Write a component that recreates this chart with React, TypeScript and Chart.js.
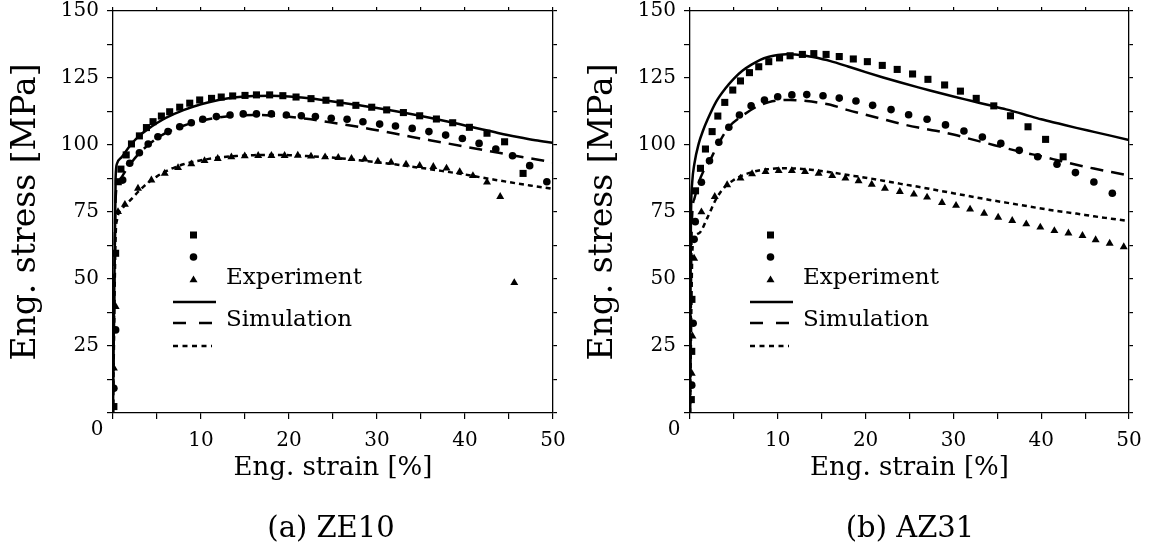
import React, { useEffect, useRef } from 'react';
import { Chart, registerables } from 'chart.js';

Chart.register(...registerables);

type P = [number, number];

const FONT = '"DejaVu Serif", serif';

// ---------- axis settings ----------
const X_MIN = 0;
const X_MAX = 50;
const Y_MIN = 0;
const Y_MAX = 150;
const X_TITLE = 'Eng. strain [%]';
const Y_TITLE = 'Eng. stress [MPa]';
const LEGEND_EXPERIMENT = 'Experiment';
const LEGEND_SIMULATION = 'Simulation';
const CAPTIONS = ['(a) ZE10', '(b) AZ31'];

// ---------- ZE10 experiment ----------
const ze10Squares: P[] = [
  [0.1, 2.4], [0.3, 59.6], [0.6, 86.3], [0.9, 91], [1.5, 96.3], [2.1, 100.4], [3.0, 103.4], [3.8, 106.5],
  [4.55, 108.7], [5.5, 110.8], [6.44, 112.4], [7.58, 114.1], [8.72, 115.6], [9.85, 116.8], [11.2, 117.4],
  [12.3, 117.9], [13.6, 118.3], [15.0, 118.5], [16.3, 118.7], [17.8, 118.7], [19.3, 118.4], [20.8, 117.9],
  [22.5, 117.3], [24.2, 116.7], [25.8, 115.7], [27.6, 114.8], [29.4, 114.1], [31.1, 113.1], [33.0, 112.1],
  [34.85, 110.9], [36.75, 109.7], [38.6, 108.3], [40.5, 106.6], [42.5, 104.4], [44.5, 101.2], [46.6, 89.4],
];
const ze10Circles: P[] = [
  [0.1, 9.2], [0.3, 31], [1.1, 86.9], [1.9, 93.2], [3.0, 97.1], [4.0, 100.4], [5.1, 103.1], [6.25, 105],
  [7.58, 106.8], [8.9, 108.3], [10.2, 109.6], [11.75, 110.6], [13.3, 111.2], [14.8, 111.6], [16.3, 111.6],
  [18, 111.6], [19.7, 111.2], [21.4, 110.9], [23, 110.6], [24.8, 110], [26.6, 109.6], [28.4, 108.7],
  [30.3, 107.8], [32.1, 107.1], [34, 106.2], [35.9, 105], [37.8, 103.7], [39.7, 102.4], [41.6, 100.6],
  [43.5, 98.5], [45.4, 96], [47.35, 92.3], [49.3, 86.3],
];
const ze10Triangles: P[] = [
  [0.1, 16.7], [0.3, 39.7], [0.57, 75.1], [1.35, 77.8], [2.84, 83.8], [4.36, 86.9], [5.88, 89.4],
  [7.39, 91.5], [8.9, 92.9], [10.4, 94.1], [11.9, 94.9], [13.45, 95.5], [14.97, 95.9], [16.5, 96],
  [18, 96], [19.5, 96], [21, 96.1], [22.5, 95.8], [24.1, 95.5], [25.6, 95.3], [27.1, 94.9], [28.6, 94.7],
  [30.1, 93.9], [31.6, 93.5], [33.3, 92.8], [34.85, 92.3], [36.4, 91.9], [37.9, 91.3], [39.4, 90],
  [40.9, 88.5], [42.5, 86.1], [44, 80.7], [45.6, 48.6],
];

// ---------- ZE10 simulation ----------
const ze10Solid: P[] = [
  [0, 0], [0.3, 88], [0.45, 93], [1, 95.5], [2, 100], [3, 103.5], [4, 106], [5, 108.2], [6, 110.1],
  [8, 113], [10, 115.2], [12, 116.8], [14, 117.8], [16, 118.3], [18, 118.4], [20, 118.1], [22, 117.5],
  [24, 116.7], [26, 115.8], [28, 114.8], [30, 113.8], [32, 112.7], [34, 111.5], [36, 110.2], [38, 108.8],
  [40, 107.3], [42, 105.8], [44, 104.3], [46, 103.0], [48, 101.8], [50, 100.8],
];
const ze10Dashed: P[] = [
  [0, 0], [0.3, 80], [0.45, 84], [1, 88], [2, 93], [3, 97], [4, 100], [5, 102.5], [6, 104.5], [8, 107.2],
  [10, 109], [12, 110.3], [14, 111], [16, 111.2], [18, 111], [20, 110.5], [22, 109.8], [24, 108.8],
  [26, 107.8], [28, 106.7], [30, 105.5], [32, 104.3], [34, 103.0], [36, 101.8], [38, 100.6], [40, 99.4],
  [42, 98.2], [44, 97.0], [46, 95.8], [48, 94.7], [50, 93.6],
];
const ze10Dotted: P[] = [
  [0, 0], [0.3, 66], [0.45, 72], [1, 76], [2, 79.5], [3, 83], [4, 86], [5, 88.3], [6, 90.2], [8, 92.8],
  [10, 94.3], [12, 95.3], [14, 95.9], [16, 96.2], [18, 96.3], [20, 96.2], [22, 95.9], [24, 95.5],
  [26, 95], [28, 94.3], [30, 93.6], [32, 92.8], [34, 91.9], [36, 91], [38, 90], [40, 89], [42, 87.8],
  [44, 86.7], [46, 85.6], [48, 84.6], [50, 83.6],
];

// ---------- AZ31 experiment ----------
const az31Squares: P[] = [
  [0.15, 5], [0.2, 23], [0.22, 42.4], [0.63, 82.9], [1.19, 91.3], [1.76, 98.5], [2.52, 105], [3.17, 110.8],
  [3.96, 115.9], [4.87, 120.5], [5.75, 123.9], [6.77, 127], [7.83, 129.2], [8.97, 131.1], [10.2, 132.5],
  [11.4, 133.3], [12.8, 133.8], [14.1, 134.1], [15.5, 133.8], [17, 133], [18.6, 132.1], [20.2, 131.1],
  [21.9, 129.7], [23.6, 128.2], [25.35, 126.5], [27.1, 124.5], [29, 122.4], [30.8, 120.1], [32.6, 117.4],
  [34.6, 114.6], [36.5, 110.9], [38.5, 106.8], [40.5, 102.1], [42.5, 95.6],
];
const az31Circles: P[] = [
  [0.2, 10.4], [0.36, 33.5], [0.47, 64.8], [0.6, 71.4], [1.3, 86.1], [2.22, 94.1], [3.28, 101], [4.42, 106.6],
  [5.63, 111.2], [6.96, 114.6], [8.48, 116.8], [9.99, 118], [11.6, 118.7], [13.3, 118.8], [15.15, 118.4],
  [17, 117.5], [18.9, 116.4], [20.8, 114.8], [22.9, 113.2], [24.9, 111.3], [27, 109.6], [29.1, 107.5],
  [31.2, 105.2], [33.3, 103], [35.4, 100.6], [37.5, 98], [39.6, 95.6], [41.8, 92.8], [43.9, 89.7],
  [46, 86.2], [48.1, 82],
];
const az31Triangles: P[] = [
  [0.2, 14.8], [0.28, 28.7], [0.47, 57.7], [1.3, 75], [2.82, 80.7], [4.23, 85.1], [5.75, 87.6], [7.07, 89.2],
  [8.6, 90], [10.1, 90.4], [11.6, 90.4], [13.1, 90], [14.65, 89.4], [16.2, 88.5], [17.7, 87.6], [19.2, 86.6],
  [20.7, 85.3], [22.2, 83.8], [23.9, 82.6], [25.5, 81.6], [27, 80.5], [28.7, 78.5], [30.3, 77.4], [31.9, 76],
  [33.5, 74.5], [35.1, 73], [36.7, 71.8], [38.3, 70.5], [39.9, 69.3], [41.5, 68], [43.1, 67.1], [44.7, 66.2],
  [46.2, 64.6], [47.8, 63.3], [49.4, 62],
];

// ---------- AZ31 simulation ----------
const az31Solid: P[] = [
  [0, 0], [0.1, 70], [0.25, 86], [0.5, 93], [1, 100.6], [1.5, 105.5], [2, 109.5], [3, 116.3], [4, 121],
  [5, 124.8], [6, 127.8], [7, 130], [8, 131.8], [9, 132.9], [10, 133.6], [11, 133.9], [12, 133.8],
  [13, 133.4], [14, 132.8], [16, 131.3], [18, 129.3], [20, 127.2], [22, 125.2], [24, 123.3], [26, 121.5],
  [28, 119.8], [30, 118.1], [32, 116.5], [34, 114.9], [36, 113.3], [38, 111.5], [40, 109.6], [42, 108],
  [44, 106.4], [46, 104.9], [48, 103.4], [50, 101.9],
];
const az31Dashed: P[] = [
  [0, 0], [0.2, 70], [0.5, 80], [1, 86], [1.5, 90], [2.3, 94.4], [3, 99], [4.4, 106.6], [6, 111],
  [7.6, 114.3], [9, 116], [10, 116.6], [11.4, 116.8], [13.3, 116.4], [15, 115.6], [16, 115], [18, 113],
  [20, 111.3], [22, 109.6], [24, 107.9], [26, 106.5], [28, 105.3], [30, 103.9], [32, 102.2], [34, 100.5],
  [36, 98.8], [38, 97.2], [40, 95.8], [42, 94.2], [44, 92.6], [46, 91.2], [48, 89.9], [50, 88.6],
];
const az31Dotted: P[] = [
  [0, 0], [0.3, 62], [1, 67], [2, 73], [3, 80], [4, 84.5], [5, 87], [6, 88.7], [7, 89.8], [8, 90.6],
  [9, 91], [10, 91.3], [11, 91.3], [12, 91.2], [14, 90.7], [16, 89.8], [18, 88.8], [20, 87.8], [22, 86.7],
  [24, 85.5], [26, 84.4], [28, 83.2], [30, 82], [32, 80.8], [34, 79.6], [36, 78.5], [38, 77.4], [40, 76.3],
  [42, 75.3], [44, 74.4], [46, 73.4], [48, 72.5], [50, 71.6],
];

const toXY = (arr: P[]) => arr.map(([x, y]) => ({ x, y }));

interface PanelProps {
  left: number;
  width: number;
  height: number;
  plotLeft: number;
  plotRight: number;
  squares: P[];
  circles: P[];
  triangles: P[];
  solid: P[];
  dashed: P[];
  dotted: P[];
}

function drawMarker(ctx: CanvasRenderingContext2D, kind: string, x: number, y: number) {
  ctx.save();
  ctx.fillStyle = '#000';
  ctx.beginPath();
  if (kind === 'rect') {
    ctx.rect(x - 3.5, y - 3.5, 7, 7);
  } else if (kind === 'circle') {
    ctx.arc(x, y, 3.8, 0, Math.PI * 2);
  } else {
    ctx.moveTo(x, y - 4.6);
    ctx.lineTo(x + 4, y + 2.3);
    ctx.lineTo(x - 4, y + 2.3);
    ctx.closePath();
  }
  ctx.fill();
  ctx.restore();
}

function drawLegendLine(ctx: CanvasRenderingContext2D, x0: number, x1: number, y: number, dash: number[]) {
  ctx.save();
  ctx.strokeStyle = '#000';
  ctx.lineWidth = 2.5;
  ctx.setLineDash(dash);
  ctx.beginPath();
  ctx.moveTo(x0, y);
  ctx.lineTo(x1, y);
  ctx.stroke();
  ctx.restore();
}

const extrasPlugin = {
  id: 'panelExtras',
  afterDraw(chart: any) {
    const { ctx, chartArea: ca } = chart;
    ctx.save();
    // shared origin label
    ctx.fillStyle = '#000';
    ctx.font = `20px ${FONT}`;
    ctx.textAlign = 'center';
    ctx.textBaseline = 'middle';
    ctx.fillText('0', ca.left - 16, ca.bottom + 17);

    // legend
    const mx = ca.left + 80.5;
    const ty = ca.top;
    drawMarker(ctx, 'rect', mx, ty + 224);
    drawMarker(ctx, 'circle', mx, ty + 246);
    drawMarker(ctx, 'triangle', mx, ty + 269);
    drawLegendLine(ctx, ca.left + 60, ca.left + 103, ty + 291, []);
    drawLegendLine(ctx, ca.left + 60, ca.left + 101, ty + 312, [13, 13]);
    drawLegendLine(ctx, ca.left + 60, ca.left + 99, ty + 335, [5, 4.5]);
    ctx.font = `23px ${FONT}`;
    ctx.textAlign = 'left';
    ctx.textBaseline = 'middle';
    ctx.fillText(LEGEND_EXPERIMENT, ca.left + 113, ty + 267);
    ctx.fillText(LEGEND_SIMULATION, ca.left + 113, ty + 309);
    ctx.restore();
  },
};

function Panel(props: PanelProps) {
  const ref = useRef<HTMLCanvasElement | null>(null);
  useEffect(() => {
    const canvas = ref.current;
    if (!canvas) return;
    const rightW = props.width - props.plotRight;
    const markerDs = (data: P[], style: string, r: number) => ({
      type: 'scatter' as const,
      data: toXY(data),
      showLine: false,
      pointStyle: style,
      pointRadius: r,
      pointHoverRadius: r,
      pointBackgroundColor: '#000',
      pointBorderColor: '#000',
      pointBorderWidth: 0,
      xAxisID: 'x',
      yAxisID: 'y',
    });
    const lineDs = (data: P[], dash: number[]) => ({
      type: 'scatter' as const,
      data: toXY(data),
      showLine: true,
      borderColor: '#000',
      borderWidth: 2.5,
      borderDash: dash,
      pointRadius: 0,
      pointHoverRadius: 0,
      cubicInterpolationMode: 'monotone' as const,
      fill: false,
      xAxisID: 'x',
      yAxisID: 'y',
    });
    const axisGrid = (len: number) => ({
      drawOnChartArea: false,
      drawTicks: true,
      tickLength: len,
      color: '#000',
      tickColor: '#000',
      lineWidth: 1.2,
      tickWidth: 1.2,
    });
    const border = { display: true, color: '#000', width: 1.3 };
    const chart = new Chart(canvas, {
      type: 'scatter',
      data: {
        datasets: [
          lineDs(props.solid, []),
          lineDs(props.dashed, [13, 8]),
          lineDs(props.dotted, [5, 4]),
          markerDs(props.squares, 'rect', 5),
          markerDs(props.circles, 'circle', 3.8),
          markerDs(props.triangles, 'triangle', 4.6),
        ] as any,
      },
      options: {
        animation: false,
        responsive: false,
        maintainAspectRatio: false,
        events: [],
        layout: { padding: 0, autoPadding: false } as any,
        plugins: { legend: { display: false }, tooltip: { enabled: false }, title: { display: false } },
        scales: {
          x: {
            type: 'linear',
            position: 'bottom',
            min: X_MIN,
            max: X_MAX,
            ticks: {
              stepSize: 5,
              autoSkip: false,
              maxRotation: 0,
              padding: 10,
              color: '#000',
              font: { family: FONT, size: 20 },
              callback: (v: any) => (Number(v) % 10 === 0 && Number(v) !== 0 ? String(v) : ''),
            },
            grid: axisGrid(6),
            border,
            title: {
              display: true,
              text: X_TITLE,
              color: '#000',
              font: { family: FONT, size: 26 },
              padding: { top: 0, bottom: 62 },
            },
            afterFit: (s: any) => { s.height = props.height - 413; },
          },
          x2: {
            type: 'linear',
            position: 'top',
            min: X_MIN,
            max: X_MAX,
            ticks: { display: false, stepSize: 5, autoSkip: false },
            grid: axisGrid(4),
            border,
            afterFit: (s: any) => { s.height = 11; },
          },
          y: {
            type: 'linear',
            position: 'left',
            min: Y_MIN,
            max: Y_MAX,
            ticks: {
              stepSize: 12.5,
              autoSkip: false,
              padding: 8,
              color: '#000',
              font: { family: FONT, size: 20, lineHeight: 0.1 },
              callback: (v: any) => (Number(v) % 25 === 0 && Number(v) !== 0 ? String(v) : ''),
            },
            grid: axisGrid(6),
            border,
            title: {
              display: true,
              text: Y_TITLE,
              color: '#000',
              font: { family: FONT, size: 33 },
              padding: { top: 7, bottom: 0 },
            },
            afterFit: (s: any) => { s.width = props.plotLeft; },
          },
          y2: {
            type: 'linear',
            position: 'right',
            min: Y_MIN,
            max: Y_MAX,
            ticks: { display: false, stepSize: 12.5, autoSkip: false },
            grid: axisGrid(4),
            border,
            afterFit: (s: any) => { s.width = rightW; },
          },
        },
      } as any,
      plugins: [extrasPlugin],
    });
    return () => chart.destroy();
  }, []);
  return (
    <canvas
      ref={ref}
      width={props.width}
      height={props.height}
      style={{ position: 'absolute', left: props.left, top: 0, width: props.width, height: props.height }}
    />
  );
}

export default function App() {
  const captionStyle = (cx: number): React.CSSProperties => ({
    position: 'absolute',
    left: cx - 150,
    width: 300,
    top: 509,
    height: 36,
    lineHeight: '36px',
    textAlign: 'center',
    fontFamily: FONT,
    fontSize: 29,
    color: '#000',
  });
  return (
    <div style={{ position: 'fixed', left: 0, top: 0, width: 1155, height: 546, background: '#fff', overflow: 'hidden' }}>
      <Panel left={0} width={577} height={546} plotLeft={113} plotRight={553}
        squares={ze10Squares} circles={ze10Circles} triangles={ze10Triangles}
        solid={ze10Solid} dashed={ze10Dashed} dotted={ze10Dotted} />
      <Panel left={577} width={578} height={546} plotLeft={113} plotRight={552}
        squares={az31Squares} circles={az31Circles} triangles={az31Triangles}
        solid={az31Solid} dashed={az31Dashed} dotted={az31Dotted} />
      <div style={captionStyle(331)}>{CAPTIONS[0]}</div>
      <div style={captionStyle(910)}>{CAPTIONS[1]}</div>
    </div>
  );
}
